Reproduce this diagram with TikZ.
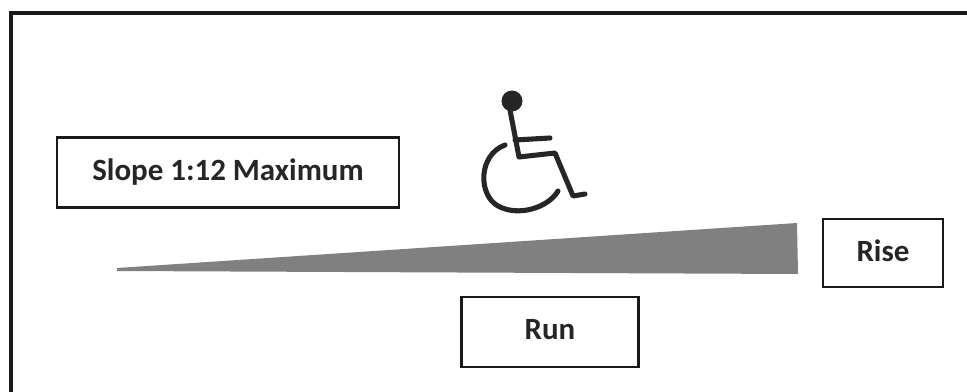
\documentclass[tikz,border=0pt]{standalone}
\usepackage{fontspec}
\setmainfont{Carlito}
\tikzset{
  px/.style={x=0.75pt,y=-0.75pt},
  labelbox/.style={draw=black!90,line width=1.6pt,fill=white,inner sep=0pt,font=\bfseries\fontsize{23.2}{27}\selectfont,text=black!85},
  chair/.style={draw=black!85,line width=3.8pt,line cap=round,line join=round}
}
\begin{document}
\begin{tikzpicture}[px]
\useasboundingbox (0,0) rectangle (967,392);
\fill[white] (0,0) rectangle (967,392);
\coordinate (tl) at (11,13);
\coordinate (tr) at (967,13);
\coordinate (bl) at (11,392);
\draw[black!90,line width=3pt] (bl) -- (tl) -- (tr);
\node[labelbox,minimum width=342pt*0.75,minimum height=70pt*0.75] (slope) at (228,172.5) {\raisebox{3.5pt}{Slope 1:12 Maximum}};
\node[labelbox,minimum width=120pt*0.75,minimum height=68pt*0.75] (rise) at (883,253) {\raisebox{3.5pt}{Rise}};
\node[labelbox,minimum width=177pt*0.75,minimum height=70pt*0.75] (run) at (550,332) {\raisebox{3.5pt}{Run}};
\fill[black!50] (117,268) -- (797,223) -- (798,274) -- (117,271) -- cycle;
% wheelchair
\fill[black!85] (512,101) circle (10.5);
\draw[chair] (510,110) -- (519,157) -- (555,153) -- (573,196) -- (585,194);
\draw[chair] (515,140) -- (550,138);
\draw[chair] (505,145) .. controls (478,155) and (478,195) .. (498,206) .. controls (518,217) and (548,208) .. (558,191);
\end{tikzpicture}
\end{document}
